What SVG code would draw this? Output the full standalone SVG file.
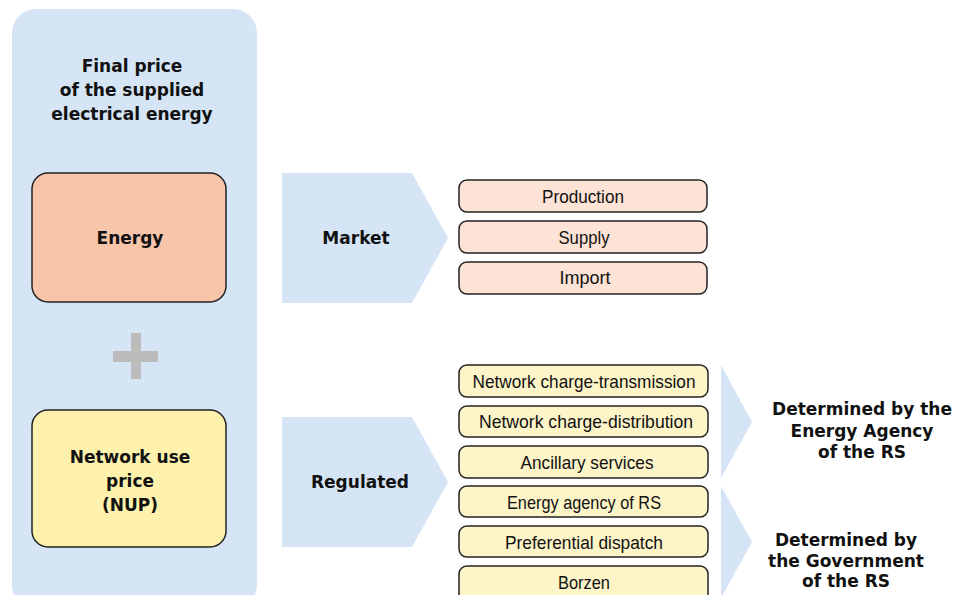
<svg xmlns="http://www.w3.org/2000/svg" width="967" height="595" viewBox="0 0 967 595">
  <style>
    .panel { fill: #d5e5f5; }
    .chev { fill: #d5e5f5; }
    .box { stroke: #222222; stroke-width: 1.5; }
    .energy { fill: #f8c5ab; }
    .nup { fill: #fdf1ac; }
    .mkt { fill: #fde2d6; }
    .reg { fill: #fdf4c8; }
    .plus { fill: #bcbcbc; }
    .h { font-family: "DejaVu Sans", "Liberation Sans", sans-serif; font-weight: bold; font-size: 17px; fill: #111111; text-anchor: middle; }
    .t { font-family: "Liberation Sans", "DejaVu Sans", sans-serif; font-size: 19px; fill: #111111; text-anchor: middle; }
  </style>

  <!-- left column: the final price -->
  <g id="final-price">
    <rect class="panel" x="12" y="9" width="245" height="600" rx="24"/>
    <text class="h" x="132" y="72">Final price</text>
    <text class="h" x="132" y="96">of the supplied</text>
    <text class="h" x="132" y="120">electrical energy</text>
  </g>

  <g id="energy">
    <rect class="box energy" x="32" y="173" width="194" height="129" rx="16"/>
    <text class="h" x="130" y="244">Energy</text>
  </g>

  <g id="plus">
    <rect class="plus" x="113" y="351" width="45" height="11"/>
    <rect class="plus" x="131" y="333" width="10" height="46"/>
  </g>

  <g id="nup">
    <rect class="box nup" x="32" y="410" width="194" height="137" rx="16"/>
    <text class="h" x="130" y="463">Network use</text>
    <text class="h" x="130" y="487">price</text>
    <text class="h" x="130" y="511">(NUP)</text>
  </g>

  <!-- chevrons -->
  <g id="connectors">
    <polygon class="chev" points="282,173 412,173 448,238 412,303 282,303"/>
    <polygon class="chev" points="282,417 412,417 448,482 412,547 282,547"/>
    <polygon class="chev" points="721,365 752,422 721,478"/>
    <polygon class="chev" points="721,486 752,542 721,598"/>
  </g>

  <g id="market">
    <text class="h" x="356" y="244">Market</text>
  </g>
  <g id="regulated">
    <text class="h" x="360" y="488">Regulated</text>
  </g>

  <!-- market components -->
  <g id="production">
    <rect class="box mkt" x="459" y="180" width="248" height="32" rx="8"/>
    <text class="t" x="583" y="203" textLength="82" lengthAdjust="spacingAndGlyphs">Production</text>
  </g>
  <g id="supply">
    <rect class="box mkt" x="459" y="221" width="248" height="32" rx="8"/>
    <text class="t" x="584" y="244" textLength="51" lengthAdjust="spacingAndGlyphs">Supply</text>
  </g>
  <g id="import">
    <rect class="box mkt" x="459" y="262" width="248" height="32" rx="8"/>
    <text class="t" x="585" y="284" textLength="51" lengthAdjust="spacingAndGlyphs">Import</text>
  </g>

  <!-- regulated components -->
  <g id="transmission">
    <rect class="box reg" x="459" y="365" width="249" height="32" rx="8"/>
    <text class="t" x="584" y="388" textLength="223" lengthAdjust="spacingAndGlyphs">Network charge-transmission</text>
  </g>
  <g id="distribution">
    <rect class="box reg" x="459" y="406" width="249" height="31" rx="8"/>
    <text class="t" x="586" y="428" textLength="214" lengthAdjust="spacingAndGlyphs">Network charge-distribution</text>
  </g>
  <g id="ancillary">
    <rect class="box reg" x="459" y="446" width="249" height="32" rx="8"/>
    <text class="t" x="587" y="469" textLength="133" lengthAdjust="spacingAndGlyphs">Ancillary services</text>
  </g>
  <g id="agency">
    <rect class="box reg" x="459" y="486" width="249" height="31" rx="8"/>
    <text class="t" x="584" y="509" textLength="154" lengthAdjust="spacingAndGlyphs">Energy agency of RS</text>
  </g>
  <g id="dispatch">
    <rect class="box reg" x="459" y="526" width="249" height="31" rx="8"/>
    <text class="t" x="584" y="549" textLength="158" lengthAdjust="spacingAndGlyphs">Preferential dispatch</text>
  </g>
  <g id="borzen">
    <rect class="box reg" x="459" y="566" width="249" height="40" rx="8"/>
    <text class="t" x="584" y="589" textLength="52" lengthAdjust="spacingAndGlyphs">Borzen</text>
  </g>

  <!-- authorities -->
  <g id="agency-rs">
    <text class="h" x="862" y="415">Determined by the</text>
    <text class="h" x="862" y="437">Energy Agency</text>
    <text class="h" x="862" y="458">of the RS</text>
  </g>
  <g id="government-rs">
    <text class="h" x="846" y="546">Determined by</text>
    <text class="h" x="846" y="567">the Government</text>
    <text class="h" x="846" y="587">of the RS</text>
  </g>
</svg>
